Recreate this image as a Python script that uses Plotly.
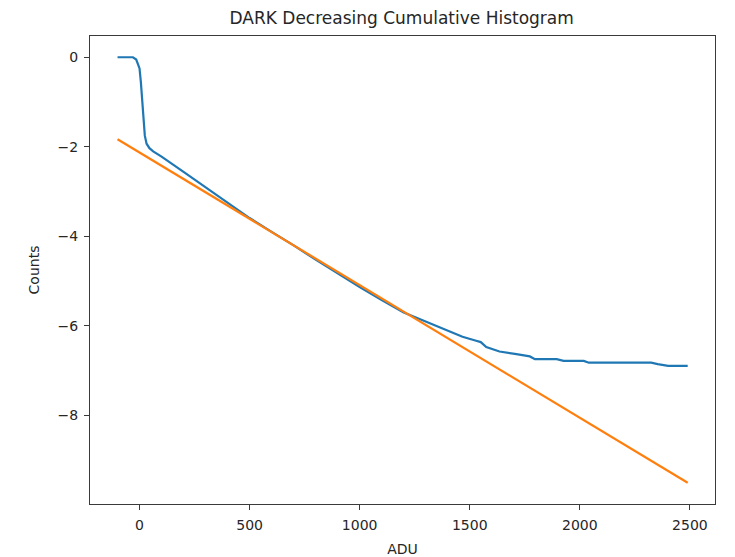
import plotly.graph_objects as go

# Decreasing cumulative histogram of the dark frame (log counts vs ADU)
adu = [-100, -30, -15, 0, 6, 12, 17, 24, 32, 45, 62, 100, 200, 300, 400, 500,
       600, 700, 800, 900, 1000, 1100, 1200, 1250, 1300, 1375, 1420, 1467,
       1529, 1550, 1575, 1635, 1712, 1773, 1796, 1895, 1926, 2018, 2041,
       2324, 2354, 2401, 2490]
counts = [0, 0, -0.05, -0.25, -0.55, -0.9, -1.25, -1.75, -1.93, -2.03, -2.1,
          -2.22, -2.56, -2.9, -3.25, -3.59, -3.9, -4.2, -4.52, -4.83, -5.13,
          -5.42, -5.70, -5.80, -5.9, -6.04, -6.13, -6.24, -6.33, -6.36, -6.47,
          -6.57, -6.63, -6.68, -6.74, -6.74, -6.78, -6.78, -6.82, -6.82,
          -6.85, -6.89, -6.89]

# Linear fit to the tail
fit_adu = [-100, 2490]
fit_counts = [-1.83, -9.5]

x_ticks = [0, 500, 1000, 1500, 2000, 2500]
y_ticks = [0, -2, -4, -6, -8]

font = "DejaVu Sans, sans-serif"

fig = go.Figure()
fig.add_trace(go.Scatter(x=adu, y=counts, mode="lines",
                         line=dict(color="#1f77b4", width=2.2),
                         showlegend=False))
fig.add_trace(go.Scatter(x=fit_adu, y=fit_counts, mode="lines",
                         line=dict(color="#ff7f0e", width=2.2),
                         showlegend=False))

axis_common = dict(showgrid=False, zeroline=False, showline=True,
                   linecolor="#3a3a3a", linewidth=1.3, mirror=True,
                   ticks="outside", ticklen=5, tickwidth=1.3,
                   tickcolor="#3a3a3a", ticklabelstandoff=3,
                   automargin=False,
                   tickfont=dict(family=font, size=14, color="#262626"))

fig.update_layout(
    width=735, height=557,
    margin=dict(l=90, r=20, t=36, b=53),
    paper_bgcolor="white", plot_bgcolor="white",
    title=dict(text="DARK Decreasing Cumulative Histogram",
               x=0.5465, xanchor="center", y=0.968, yanchor="middle",
               font=dict(family=font, size=17, color="#262626")),
    xaxis=dict(range=[-225, 2614], tickvals=x_ticks,
               title=dict(text="ADU", standoff=14,
                          font=dict(family=font, size=14, color="#262626")),
               **axis_common),
    yaxis=dict(range=[-9.975, 0.475], tickvals=y_ticks,
               tickformat="d",
               title=dict(text="Counts", standoff=14,
                          font=dict(family=font, size=14, color="#262626")),
               **axis_common),
)

fig.write_html("out.html")
